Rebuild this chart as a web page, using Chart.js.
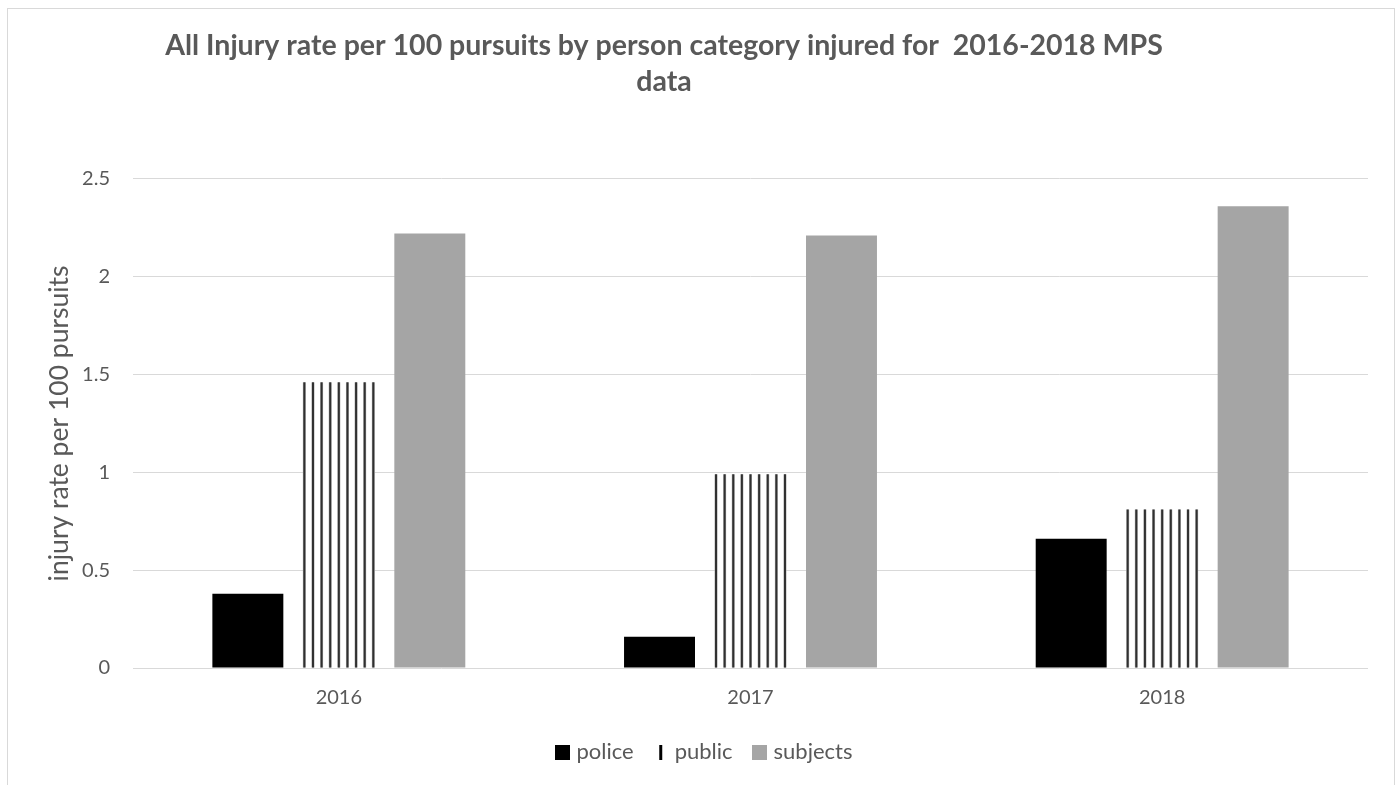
<!DOCTYPE html>
<html>
<head>
<meta charset="utf-8">
<script src="https://cdn.jsdelivr.net/npm/chart.js@4.4.1/dist/chart.umd.min.js"></script>
<style>
  html, body { margin: 0; padding: 0; background: #ffffff; overflow: hidden; }
  #wrap { position: relative; width: 1400px; height: 785px; }
  #frame { position: absolute; left: 7px; top: 8px; width: 1388px; height: 900px; border: 1px solid #d9d9d9; box-sizing: border-box; }
  #c { position: absolute; left: 0; top: 0; }
</style>
</head>
<body>
<div id="wrap">
  <div id="frame"></div>
  <canvas id="c" width="1400" height="785"></canvas>
</div>
<script>
const categories = ['2016', '2017', '2018'];
const seriesNames = ['police', 'public', 'subjects'];
const policeValues = [0.38, 0.16, 0.66];
const publicValues = [1.46, 0.99, 0.81];
const subjectsValues = [2.22, 2.21, 2.36];
const yTicks = [0, 0.5, 1, 1.5, 2, 2.5];
const yTickLabels = ['0', '0.5', '1', '1.5', '2', '2.5'];
const titleLines = ['All Injury rate per 100 pursuits by person category injured for  2016-2018 MPS', 'data'];
const yAxisTitle = 'injury rate per 100 pursuits';

const TEXT = '#595959';
const GRID = '#d9d9d9';
const FONT = 'Lato, "Open Sans", sans-serif';

function swatch(w, h, draw) {
  const cv = document.createElement('canvas');
  cv.width = w; cv.height = h;
  const g = cv.getContext('2d');
  draw(g);
  return cv;
}
const policeSwatch = swatch(15, 15, g => { g.fillStyle = '#000'; g.fillRect(0, 0, 15, 15); });
const publicSwatch = swatch(15, 15, g => { g.fillStyle = '#000'; g.fillRect(6, 0, 3, 15); });
const subjectsSwatch = swatch(15, 15, g => { g.fillStyle = '#a5a5a5'; g.fillRect(0, 0, 15, 15); });
const swatches = [policeSwatch, publicSwatch, subjectsSwatch];

const stripePlugin = {
  id: 'stripes',
  afterDatasetDraw(chart, args) {
    if (args.index !== 1) return;
    const ctx = chart.ctx;
    const meta = args.meta;
    ctx.save();
    meta.data.forEach(bar => {
      const p = bar.getProps(['x', 'y', 'base', 'width'], true);
      const left = p.x - p.width / 2;
      const right = p.x + p.width / 2;
      const top = Math.min(p.y, p.base);
      const bottom = Math.max(p.y, p.base);
      const n = 9;
      const step = (right - left - 2) / (n - 1);
      for (let k = 0; k < n; k++) {
        const sx = left + k * step;
        ctx.fillStyle = '#b0b0b0';
        ctx.fillRect(sx - 0.5, top, 3, bottom - top);
        ctx.fillStyle = '#303030';
        ctx.fillRect(sx, top, 2, bottom - top);
      }
    });
    ctx.restore();
  }
};

// shift title and legend horizontally to match the reference placement
const shiftPlugin = {
  id: 'shiftBoxes',
  afterLayout(chart) {
    if (chart.titleBlock) { chart.titleBlock.left -= 20; chart.titleBlock.right -= 20; }
    if (chart.legend) { chart.legend.left += 22; chart.legend.right += 22; }
  }
};

new Chart(document.getElementById('c'), {
  type: 'bar',
  data: {
    labels: categories,
    datasets: [
      { label: seriesNames[0], data: policeValues, backgroundColor: '#000000', borderWidth: 0 },
      { label: seriesNames[1], data: publicValues, backgroundColor: '#ffffff', borderWidth: 0 },
      { label: seriesNames[2], data: subjectsValues, backgroundColor: '#a5a5a5', borderWidth: 0 }
    ]
  },
  plugins: [stripePlugin, shiftPlugin],
  options: {
    responsive: false,
    devicePixelRatio: 1,
    animation: false,
    categoryPercentage: 0.663,
    barPercentage: 0.78,
    layout: { padding: { left: 0, right: 32, top: 0, bottom: 12 } },
    plugins: {
      title: {
        display: true,
        text: titleLines,
        color: TEXT,
        font: { family: FONT, size: 28.5, weight: 'bold', lineHeight: 1.26 },
        padding: { top: 28, bottom: 79 }
      },
      legend: {
        display: true,
        position: 'bottom',
        labels: {
          color: TEXT,
          font: { family: FONT, size: 22 },
          usePointStyle: true,
          pointStyleWidth: 6,
          padding: 24,
          generateLabels(chart) {
            return chart.data.datasets.map((ds, i) => ({
              text: ds.label,
              fillStyle: ds.backgroundColor,
              strokeStyle: 'rgba(0,0,0,0)',
              lineWidth: 0,
              pointStyle: swatches[i],
              fontColor: TEXT,
              hidden: false,
              datasetIndex: i
            }));
          }
        }
      },
      tooltip: { enabled: false }
    },
    scales: {
      x: {
        grid: { display: false, drawTicks: false },
        border: { display: false },
        afterFit(scale) { scale.height -= 11; },
        ticks: { color: TEXT, font: { family: FONT, size: 20 }, padding: 18 }
      },
      y: {
        min: 0,
        max: 2.5,
        afterFit(scale) { scale.width = 133; },
        afterBuildTicks(scale) { scale.ticks = yTicks.map(v => ({ value: v })); },
        grid: { color: GRID, lineWidth: 1, drawTicks: false },
        border: { display: false },
        ticks: {
          color: TEXT,
          font: { family: FONT, size: 20 },
          padding: 23,
          callback(value) {
            const i = yTicks.indexOf(value);
            return i >= 0 ? yTickLabels[i] : String(value);
          }
        },
        title: {
          display: true,
          text: yAxisTitle,
          color: TEXT,
          font: { family: FONT, size: 26.5 },
          padding: { top: 44, bottom: 0 }
        }
      }
    }
  }
});
</script>
</body>
</html>
